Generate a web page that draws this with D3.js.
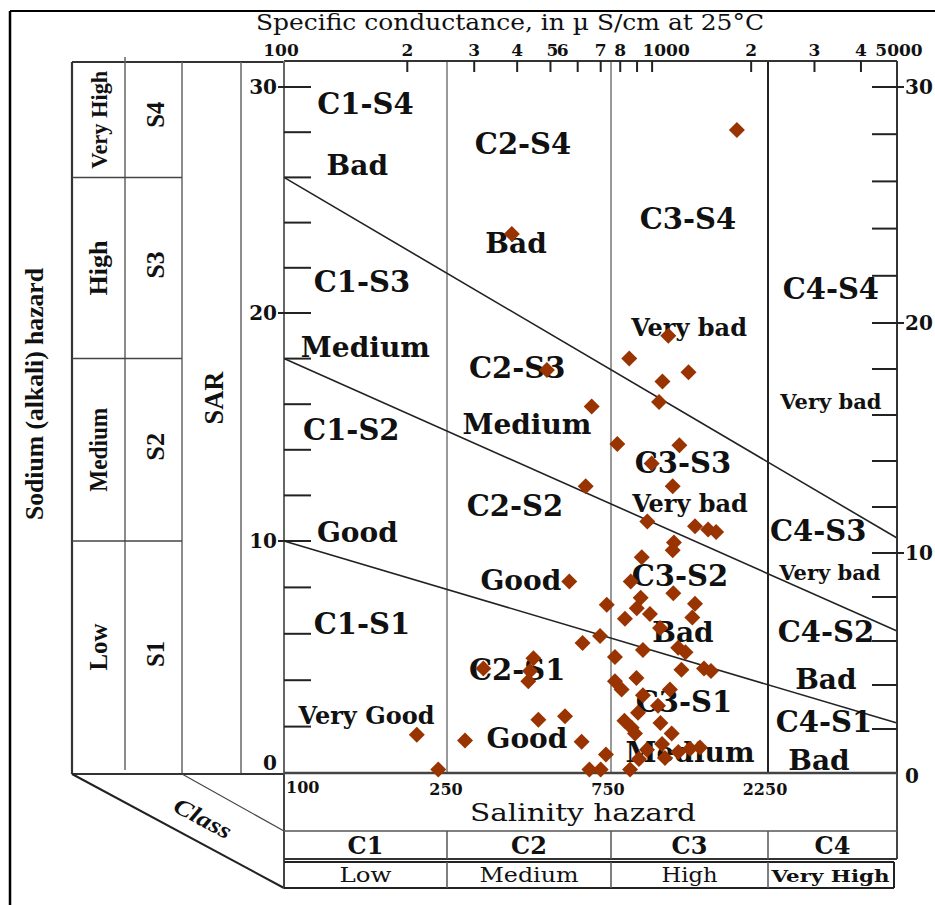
<!DOCTYPE html>
<html>
<head>
<meta charset="utf-8">
<script src="https://cdn.jsdelivr.net/npm/d3@7"></script>
<style>
  body { margin: 0; background: #fff; }
  svg { display: block; }
</style>
</head>
<body>
<div id="chart"></div>
<script>
(function() {
  'use strict';

  // samples: specific conductance (uS/cm) and SAR
  var ecSamples = [1810, 386, 1120, 852, 488, 1290, 1075, 659, 1050, 784,
    1210, 997, 1155, 633, 967, 1350, 1480, 1565, 1165, 1155,
    930, 567, 861, 1160, 923, 729, 898, 1350, 985, 1325,
    827, 1057, 697, 620, 938, 1200, 1263, 771, 446, 319,
    436, 1228, 1438, 1510, 431, 896, 771, 808, 1133, 938,
    1042, 906, 551, 461, 824, 1060, 867, 211, 887, 1147,
    282, 616, 1072, 965, 1304, 1398, 1201, 725, 1094, 912,
    238, 649, 700, 857];
  var sarSamples = [28.1, 23.5, 19.0, 18.0, 17.5, 17.4, 17.0, 15.9, 16.1, 14.25,
    14.2, 13.4, 12.4, 12.4, 10.85, 10.65, 10.5, 10.4, 9.93, 9.6,
    9.3, 8.25, 8.25, 7.75, 7.55, 7.25, 7.1, 7.3, 6.85, 6.7,
    6.65, 6.25, 5.9, 5.6, 5.3, 5.4, 5.2, 5.0, 4.95, 4.5,
    4.4, 4.45, 4.5, 4.4, 3.95, 4.1, 3.95, 3.6, 3.6, 3.35,
    2.9, 2.6, 2.45, 2.3, 2.25, 2.15, 1.95, 1.65, 1.7, 1.7,
    1.4, 1.35, 1.25, 1.0, 1.05, 1.1, 0.9, 0.8, 0.65, 0.6,
    0.15, 0.15, 0.15, 0.15];

  var classBreaks = [100, 250, 750, 2250, 5000];
  var classNames = ['C1', 'C2', 'C3', 'C4'];
  var classLevels = ['Low', 'Medium', 'High', 'Very High'];
  var sodiumBreaks = [0, 10, 18, 26, 30];
  var sodiumNames = ['S1', 'S2', 'S3', 'S4'];
  var sodiumLevels = ['Low', 'Medium', 'High', 'Very High'];
  // hazard boundaries: SAR at EC 100 (left axis) and at EC 5000 (right axis)
  var lineStartSAR = [26, 18, 10];
  var lineEndSAR = [10.65, 6.45, 2.27];

  var topTicks = [100, 200, 300, 400, 500, 600, 700, 800, 900, 1000, 2000, 3000, 4000, 5000];
  var topTickText = ['100', '2', '3', '4', '5', '6', '7', '8', '', '1000', '2', '3', '4', '5000'];
  var sarTicks = [2, 4, 6, 8, 10, 12, 14, 16, 18, 20, 22, 24, 26, 28, 30];
  var sarLabels = [0, 10, 20, 30];
  var ecLabels = [100, 250, 750, 2250];

  var regionText = ['C1-S4', 'Bad', 'C1-S3', 'Medium', 'C1-S2', 'Good', 'C1-S1', 'Very Good',
    'C2-S4', 'Bad', 'C2-S3', 'Medium', 'C2-S2', 'Good', 'C2-S1', 'Good',
    'C3-S4', 'Very bad', 'C3-S3', 'Very bad', 'C3-S2', 'Bad', 'C3-S1', 'Medium',
    'C4-S4', 'Very bad', 'C4-S3', 'Very bad', 'C4-S2', 'Bad', 'C4-S1', 'Bad'];
  var regionEC = [158, 151, 155, 158, 146, 151, 155, 159,
    416, 397, 400, 427, 394, 410, 400, 427,
    1285, 1295, 1241, 1304, 1215, 1241, 1250, 1304,
    3320, 3320, 3070, 3300, 3220, 3220, 3180, 3085];
  var regionSAR = [29.25, 26.55, 21.4, 18.5, 14.87, 10.39, 6.42, 2.5,
    27.48, 23.1, 17.59, 15.13, 11.55, 8.32, 4.44, 1.51,
    24.16, 19.38, 13.42, 11.64, 8.49, 6.08, 3.1, 0.9,
    21.1, 16.14, 10.47, 8.66, 6.08, 4.05, 2.2, 0.56];

  var width = 935, height = 905;
  var left = 284, right = 897, top = 61, bottom = 773;
  var wide = '"DejaVu Serif", serif',
    narrow = '"Liberation Serif", "Times New Roman", serif',
    ink = '#111';

  var x = d3.scaleLog().domain(classBreaks).range([left, 447, 611, 768, right]);
  var y = d3.scaleLinear().domain([0, 10, 20, 30]).range([bottom, 541, 313, 87]);
  var yRight = d3.scaleLinear().domain([0, 10, 20, 30]).range([bottom, 553, 323, 87]);

  var svg = d3.select('#chart')
    .append('svg')
    .attr('width', width)
    .attr('height', height);

  function line(g, x1, y1, x2, y2, w, c) {
    return g.append('line')
      .attr('x1', x1).attr('y1', y1)
      .attr('x2', x2).attr('y2', y2)
      .attr('stroke', c || '#222')
      .attr('stroke-width', w || 1.5);
  }

  function vText(cx, cy, txt, size, len, family, weight) {
    svg.append('text')
      .attr('transform', 'translate(' + cx + ',' + cy + ') rotate(-90)')
      .attr('text-anchor', 'middle')
      .attr('dy', '0.35em')
      .attr('textLength', len)
      .attr('lengthAdjust', 'spacingAndGlyphs')
      .style('font-family', family || narrow)
      .style('font-weight', weight || 'bold')
      .style('font-size', size + 'px')
      .attr('fill', ink)
      .text(txt);
  }

  // outer frame (left and top edges only)
  line(svg, 10, 11, 10, height, 2.5, '#000');
  line(svg, 10, 11, width, 11, 2, '#000');

  // title
  svg.append('text')
    .attr('x', 510).attr('y', 30)
    .attr('text-anchor', 'middle')
    .attr('textLength', 508)
    .attr('lengthAdjust', 'spacingAndGlyphs')
    .style('font-family', wide)
    .style('font-size', '22px')
    .attr('fill', ink)
    .text('Specific conductance, in \u00b5 S/cm at 25\u00b0C');

  // ---- left table (sodium hazard) ----
  var cols = [72, 125, 182, 241, left];
  var tableTop = 62;
  line(svg, cols[0], tableTop, left, tableTop, 2, '#333');
  line(svg, cols[0], tableTop, cols[0], bottom + 1, 2.2, '#333');
  line(svg, cols[1], 57, cols[1], bottom - 3, 1.5, '#666');
  line(svg, cols[2], tableTop, cols[2], bottom + 1, 1.5, '#666');
  line(svg, cols[3], tableTop, cols[3], bottom + 1, 1.5, '#666');
  line(svg, cols[0], bottom + 1, left, bottom + 1, 2, '#333');

  sodiumBreaks.slice(1, 4).forEach(function(s) {
    line(svg, cols[0], y(s), cols[2], y(s), 1.5, '#444');
  });

  var levelLen = [47, 84, 55, 98];
  var nameLen = [26, 28, 27, 26];
  sodiumNames.forEach(function(n, i) {
    var y0 = y(sodiumBreaks[i]);
    var y1 = i === 3 ? tableTop : y(sodiumBreaks[i + 1]);
    var cy = (y0 + y1) / 2;
    vText((cols[0] + cols[1]) / 2, cy - (i === 0 ? 10 : 0), sodiumLevels[i],
      i === 3 ? 23 : 25, levelLen[i], narrow, i === 3 ? '600' : 'bold');
    vText((cols[1] + cols[2]) / 2 + 1, cy - (i === 3 ? 5 : 3), n, 26, nameLen[i]);
  });
  vText(214, 398, 'SAR', 27, 53);
  vText(34, 394, 'Sodium (alkali) hazard', 26, 252);

  // bottom-left slanted "Class" panel
  line(svg, cols[0], bottom + 1, left, 888, 2, '#222');
  line(svg, cols[2], bottom + 1, left, 831, 1.2, '#444');
  svg.append('text')
    .attr('transform', 'translate(203,818) rotate(28.2)')
    .attr('text-anchor', 'middle')
    .attr('dy', '0.35em')
    .attr('textLength', 62)
    .attr('lengthAdjust', 'spacingAndGlyphs')
    .style('font-family', narrow)
    .style('font-weight', 'bold')
    .style('font-style', 'italic')
    .style('font-size', '23px')
    .attr('fill', ink)
    .text('Class');

  // ---- plot area ----
  var plot = svg.append('g');

  // class boundaries
  classBreaks.slice(1, 4).forEach(function(c, i) {
    line(plot, x(c), top, x(c), bottom, i === 2 ? 2 : 1.5, i === 2 ? '#222' : '#777');
  });

  // hazard lines
  plot.selectAll('.hazard')
    .data(d3.zip(lineStartSAR, lineEndSAR))
    .enter()
    .append('line')
    .attr('class', 'hazard')
    .attr('x1', x(100)).attr('y1', function(d) { return y(d[0]); })
    .attr('x2', x(5000)).attr('y2', function(d) { return yRight(d[1]); })
    .attr('stroke', '#222')
    .attr('stroke-width', 1.6);

  // frame
  line(plot, left, top, right, top, 2, '#333');
  line(plot, left, top, left, bottom, 2, '#666');
  line(plot, right, top, right, bottom, 2, '#333');
  line(plot, left, bottom, right, bottom, 2.5, '#444');

  // top ticks and labels
  plot.selectAll('.top-tick')
    .data(topTicks)
    .enter()
    .append('line')
    .attr('x1', function(d) { return x(d); })
    .attr('x2', function(d) { return x(d); })
    .attr('y1', top)
    .attr('y2', function(d) { return d === 100 || d === 5000 ? top : top + 11; })
    .attr('stroke', '#222')
    .attr('stroke-width', 2);

  plot.selectAll('.top-label')
    .data(topTicks)
    .enter()
    .append('text')
    .attr('x', function(d) {
      var px = x(d);
      if (d === 1000) return px + 14;
      if (d === 600) return px - 15;
      if (d === 100) return px - 3;
      if (d === 500 || d === 5000) return px + 2;
      return px;
    })
    .attr('y', 56)
    .attr('text-anchor', 'middle')
    .style('font-family', wide)
    .style('font-weight', 'bold')
    .style('font-size', '17px')
    .attr('fill', ink)
    .text(function(d, i) { return topTickText[i]; });

  // SAR ticks, left (inside) and right
  plot.selectAll('.sar-left')
    .data(sarTicks)
    .enter()
    .append('line')
    .attr('x1', function(d) { return d % 10 === 0 ? left - 6 : left; })
    .attr('x2', left + 27)
    .attr('y1', function(d) { return y(d); })
    .attr('y2', function(d) { return y(d); })
    .attr('stroke', '#222')
    .attr('stroke-width', 2);

  plot.selectAll('.sar-right')
    .data(sarTicks)
    .enter()
    .append('line')
    .attr('x1', right - 25)
    .attr('x2', function(d) { return d % 10 === 0 ? right + 7 : right; })
    .attr('y1', function(d) { return yRight(d); })
    .attr('y2', function(d) { return yRight(d); })
    .attr('stroke', '#222')
    .attr('stroke-width', 2);

  plot.selectAll('.sar-label-l')
    .data(sarLabels)
    .enter()
    .append('text')
    .attr('x', left - 7)
    .attr('y', function(d) { return d === 0 ? y(d) - 10 : y(d); })
    .attr('dy', '0.35em')
    .attr('text-anchor', 'end')
    .style('font-family', wide)
    .style('font-weight', 'bold')
    .style('font-size', '20px')
    .attr('fill', ink)
    .text(function(d) { return d; });

  plot.selectAll('.sar-label-r')
    .data(sarLabels)
    .enter()
    .append('text')
    .attr('x', right + 8)
    .attr('y', function(d) { return yRight(d) + (d === 0 ? 3 : 0); })
    .attr('dy', '0.35em')
    .style('font-family', wide)
    .style('font-weight', 'bold')
    .style('font-size', '20px')
    .attr('fill', ink)
    .text(function(d) { return d; });

  // region labels
  plot.selectAll('.region')
    .data(regionText)
    .enter()
    .append('text')
    .attr('class', 'region')
    .attr('x', function(d, i) { return x(regionEC[i]); })
    .attr('y', function(d, i) { return y(regionSAR[i]); })
    .attr('dy', '0.36em')
    .attr('text-anchor', 'middle')
    .style('font-family', wide)
    .style('font-weight', 'bold')
    .style('font-size', function(d, i) {
      if (d.indexOf('Very') === 0) return regionEC[i] > 2250 ? '21px' : '24px';
      return d.charAt(0) === 'C' ? '29px' : '28px';
    })
    .attr('fill', ink)
    .text(function(d) { return d; });

  // samples
  plot.selectAll('.sample')
    .data(d3.zip(ecSamples, sarSamples))
    .enter()
    .append('path')
    .attr('class', 'sample')
    .attr('d', d3.symbol(d3.symbolSquare, 128))
    .attr('transform', function(d) {
      return 'translate(' + x(d[0]) + ',' + y(d[1]) + ') rotate(45)';
    })
    .attr('fill', '#993300');

  // ---- bottom table (salinity hazard) ----
  var rowA = 831, rowB = 859, rowC = 862, rowD = 888;
  line(svg, left, bottom, left, rowD, 2, '#444');
  line(svg, right, bottom, right, rowB, 2, '#444');
  line(svg, left, rowA, right, rowA, 1.5, '#555');
  line(svg, left, rowB, right, rowB, 2, '#333');
  line(svg, left, rowC, right - 3, rowC, 2, '#222');
  line(svg, left, rowD, right - 3, rowD, 2, '#222');
  line(svg, right - 3, rowC, right - 3, rowD, 2, '#222');

  classBreaks.slice(1, 4).forEach(function(c) {
    line(svg, x(c), rowA, x(c), rowB, 1.5, '#555');
    line(svg, x(c), rowC, x(c), rowD, 1.5, '#555');
  });

  svg.selectAll('.ec-label')
    .data(ecLabels)
    .enter()
    .append('text')
    .attr('x', function(d) { return d === 100 ? x(d) + 2 : x(d) - (d === 250 ? 1 : 3); })
    .attr('y', function(d) { return d === 100 ? 793 : 795; })
    .attr('text-anchor', function(d) { return d === 100 ? 'start' : 'middle'; })
    .style('font-family', wide)
    .style('font-weight', 'bold')
    .style('font-size', '16px')
    .attr('fill', ink)
    .text(function(d) { return d; });

  svg.append('text')
    .attr('x', 583).attr('y', 821)
    .attr('text-anchor', 'middle')
    .attr('textLength', 226)
    .attr('lengthAdjust', 'spacingAndGlyphs')
    .style('font-family', wide)
    .style('font-size', '25px')
    .attr('fill', ink)
    .text('Salinity hazard');

  var levelWidth = [52, 99, 56, 118];
  classNames.forEach(function(n, i) {
    var cx = (x(classBreaks[i]) + x(classBreaks[i + 1])) / 2;
    svg.append('text')
      .attr('x', cx).attr('y', 854)
      .attr('text-anchor', 'middle')
      .style('font-family', wide)
      .style('font-weight', 'bold')
      .style('font-size', '24px')
      .attr('fill', ink)
      .text(n);
    svg.append('text')
      .attr('x', cx - (i === 3 ? 2 : 0)).attr('y', 882)
      .attr('text-anchor', 'middle')
      .attr('textLength', levelWidth[i])
      .attr('lengthAdjust', 'spacingAndGlyphs')
      .style('font-family', wide)
      .style('font-weight', i === 3 ? 'bold' : 'normal')
      .style('font-size', i === 3 ? '17px' : '20px')
      .attr('fill', ink)
      .text(classLevels[i]);
  });
})();
</script>
</body>
</html>
